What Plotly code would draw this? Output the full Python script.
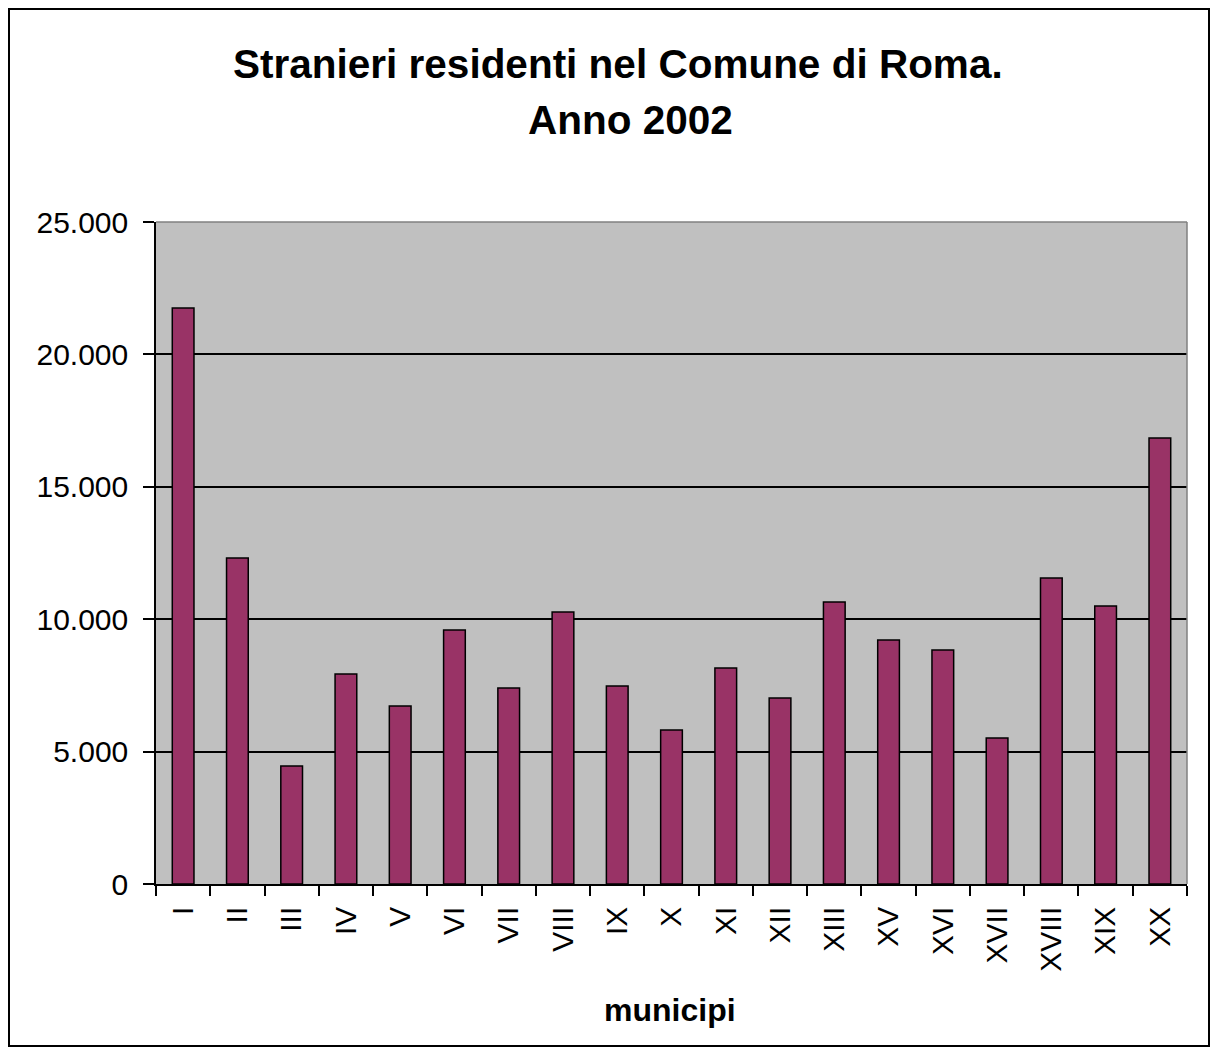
import plotly.graph_objects as go

municipi = ["I", "II", "III", "IV", "V", "VI", "VII", "VIII", "IX", "X",
            "XI", "XII", "XIII", "XV", "XVI", "XVII", "XVIII", "XIX", "XX"]
stranieri = [21750, 12310, 4460, 7930, 6720, 9590, 7400, 10270, 7480, 5820,
             8160, 7020, 10650, 9210, 8840, 5510, 11560, 10500, 16840]
y_ticks = [0, 5000, 10000, 15000, 20000, 25000]

title_line1 = "Stranieri residenti nel Comune di Roma."
title_line2 = "Anno 2002"
x_title = "municipi"

OFF = 8  # page body margin
W, H = 1218 - OFF, 1055 - OFF
# desired plot area bounds in page pixels
L, R, T, B = 156, 1187, 222, 884

def px_x(px):
    return (px - L) / (R - L)

def px_y(py):
    return (B - py) / (B - T)

FONT = "Liberation Sans, Arial, sans-serif"

fig = go.Figure()
fig.add_trace(go.Bar(
    x=municipi, y=stranieri,
    marker=dict(color="#993366", line=dict(color="black", width=1.5)),
    showlegend=False,
))

fig.update_layout(
    width=W, height=H,
    margin=dict(l=L - OFF, r=W - (R - OFF), t=T - OFF, b=H - (B - OFF), pad=0),
    paper_bgcolor="white",
    plot_bgcolor="#C0C0C0",
    bargap=0.6,
    separators=",.",
    font=dict(family=FONT, color="black"),
    xaxis=dict(
        type="category",
        showline=True, linecolor="black", linewidth=1.5,
        ticks="outside", tickson="boundaries", ticklen=10, tickwidth=1.5, tickcolor="black",
        tickangle=-90,
        tickfont=dict(family=FONT, size=30, color="black"),
        showgrid=False,
        ticklabelstandoff=9,
    ),
    yaxis=dict(
        range=[0, 25000],
        tickvals=y_ticks,
        tickformat=",d",
        showline=True, linecolor="black", linewidth=1.5,
        ticks="outside", ticklen=11, tickwidth=1.5, tickcolor="black",
        tickfont=dict(family=FONT, size=30, color="black"),
        showgrid=True, gridcolor="black", gridwidth=1.5,
        zeroline=False,
        ticklabelstandoff=9,
    ),
)

# plot-area top and right border (grey)
fig.add_shape(type="line", xref="paper", yref="paper", x0=0, x1=1, y0=1, y1=1,
              line=dict(color="#808080", width=1.5), layer="above")
fig.add_shape(type="line", xref="paper", yref="paper", x0=1, x1=1, y0=0, y1=1,
              line=dict(color="#808080", width=1.5), layer="above")

# outer chart border
fig.add_shape(type="rect", xref="paper", yref="paper",
              x0=px_x(9), x1=px_x(1209), y0=px_y(1046), y1=px_y(9),
              line=dict(color="black", width=2), fillcolor="rgba(0,0,0,0)", layer="above")

fig.add_annotation(text="<b>" + title_line1 + "</b>", xref="paper", yref="paper",
                   x=px_x(618), y=px_y(64), xanchor="center", yanchor="middle",
                   showarrow=False, font=dict(family=FONT, size=40.5, color="black"))
fig.add_annotation(text="<b>" + title_line2 + "</b>", xref="paper", yref="paper",
                   x=px_x(630), y=px_y(120), xanchor="center", yanchor="middle",
                   showarrow=False, font=dict(family=FONT, size=40.5, color="black"))
fig.add_annotation(text="<b>" + x_title + "</b>", xref="paper", yref="paper",
                   x=px_x(670), y=px_y(1010), xanchor="center", yanchor="middle",
                   showarrow=False, font=dict(family=FONT, size=32, color="black"))

fig.write_html("out.html")
